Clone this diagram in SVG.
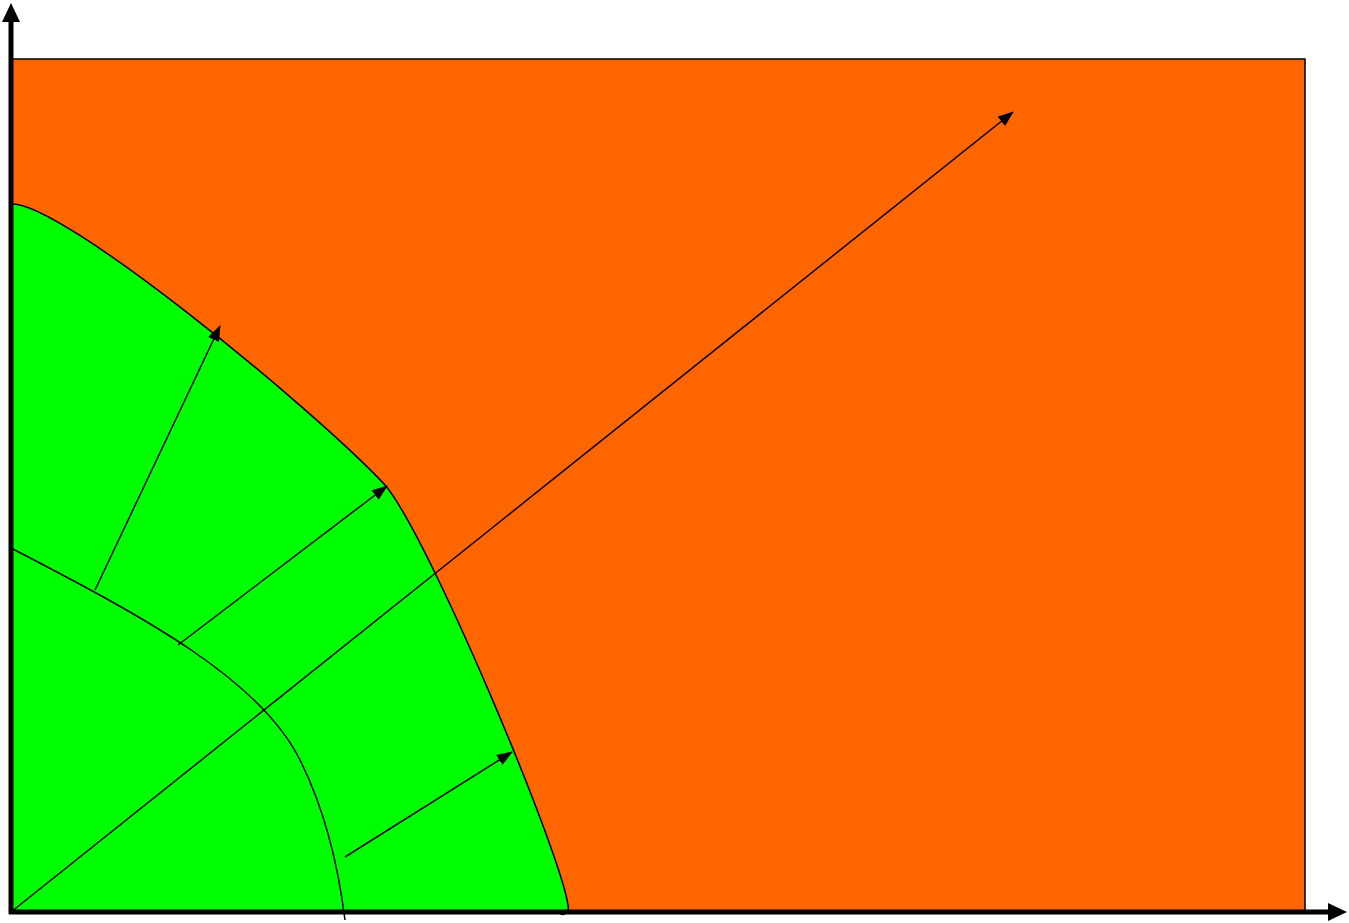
<svg xmlns="http://www.w3.org/2000/svg" width="1349" height="923" viewBox="0 0 1349 923">
<defs>
<style>
.ln{fill:none;stroke:#000;stroke-width:1.5}
.ax{fill:none;stroke:#000;stroke-width:5}
</style>
<marker id="ah" viewBox="0 0 16 12" refX="15" refY="6" markerWidth="16" markerHeight="12" markerUnits="userSpaceOnUse" orient="auto">
<path d="M0,0 L16,6 L0,12 Z" fill="#000"/>
</marker>
</defs>
<g id="region-outer">
<rect x="11" y="59" width="1294" height="853" fill="#ff6600" stroke="#000" stroke-width="1.5"/>
</g>
<g id="region-inner">
<path d="M11,204 C60,200 315,410 385,485 C428,535 560,850 568,905 C570,916 560,916 558,912 L11,912 Z" fill="#00ff00" stroke="#000" stroke-width="1.5"/>
</g>
<g id="curve-inner">
<path class="ln" d="M11,548 C150,620 260,680 300,760 C330,820 340,880 345,920"/>
</g>
<g id="connectors">
<line class="ln" x1="95" y1="590" x2="220" y2="326" marker-end="url(#ah)"/>
<line class="ln" x1="178" y1="645" x2="387" y2="486" marker-end="url(#ah)"/>
<line class="ln" x1="345" y1="857" x2="512" y2="752" marker-end="url(#ah)"/>
<line class="ln" x1="11" y1="912" x2="1013" y2="112" marker-end="url(#ah)"/>
</g>
<g id="axes">
<line class="ax" x1="11" y1="914" x2="11" y2="20"/>
<path d="M11,3 L2,22 L20,22 Z" fill="#000"/>
<line class="ax" x1="9" y1="912" x2="1330" y2="912"/>
<path d="M1347,912 L1328,903 L1328,921 Z" fill="#000"/>
</g>
</svg>
